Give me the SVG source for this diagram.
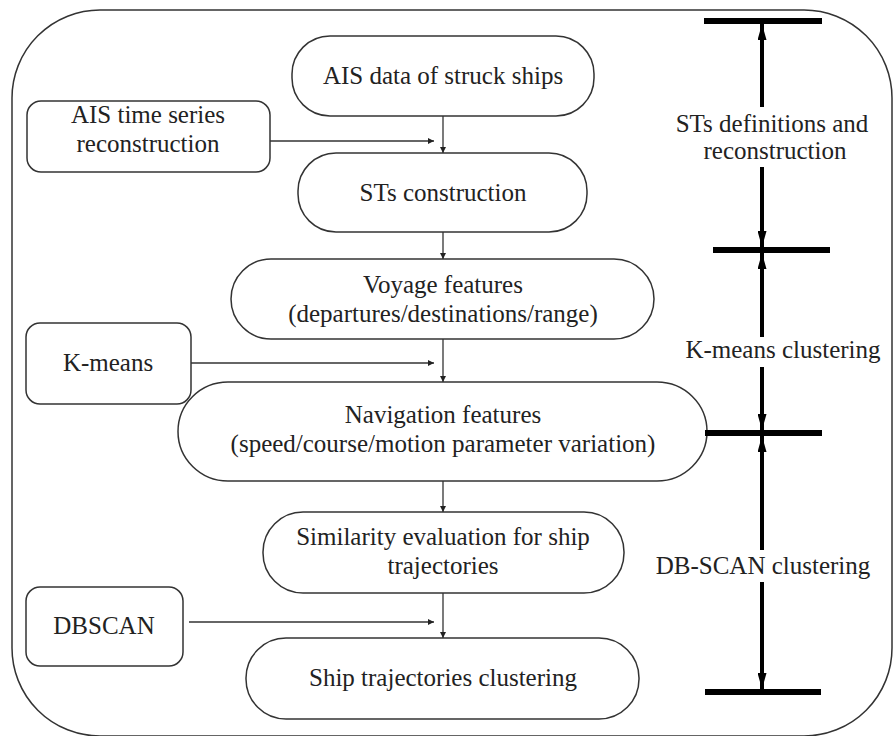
<svg xmlns="http://www.w3.org/2000/svg" width="895" height="736" viewBox="0 0 895 736">
<defs>
<style>
.box{fill:#fff;stroke:#333;stroke-width:1.5}
.t{font-family:"Liberation Serif","Times New Roman",serif;font-size:25px;fill:#222;text-anchor:middle}
.c{stroke:#333;stroke-width:1.3;fill:none}
.bar{stroke:#000;stroke-width:6;fill:none}
.thick{stroke:#000;stroke-width:4;fill:none}
</style>
<marker id="a" viewBox="0 0 10 10" refX="10" refY="5" markerWidth="6" markerHeight="6" markerUnits="userSpaceOnUse" orient="auto">
<path d="M0,0 L10,5 L0,10 z" fill="#222"/>
</marker>
<marker id="b" viewBox="0 0 10 10" refX="10" refY="5" markerWidth="16" markerHeight="9" markerUnits="userSpaceOnUse" orient="auto" preserveAspectRatio="none">
<path d="M0,0 L10,5 L0,10 z" fill="#000"/>
</marker>
</defs>
<rect id="frame" x="12" y="10" width="880" height="726" rx="88" ry="88" fill="#fff" stroke="#333" stroke-width="1.5"/>
<g id="n1"><rect class="box" x="292" y="36" width="302" height="80" rx="38"/><text class="t" x="443" y="84">AIS data of struck ships</text></g>
<g id="n2"><rect class="box" x="298" y="153" width="289" height="79" rx="38"/><text class="t" x="443" y="201">STs construction</text></g>
<g id="n3"><rect class="box" x="231" y="259" width="423" height="80" rx="40"/><text class="t" x="443" y="293">Voyage features</text><text class="t" x="443" y="322">(departures/destinations/range)</text></g>
<g id="n4"><rect class="box" x="178" y="382" width="529" height="99" rx="50"/><text class="t" x="443" y="423">Navigation features</text><text class="t" x="443" y="452">(speed/course/motion parameter variation)</text></g>
<g id="n5"><rect class="box" x="263" y="512" width="361" height="81" rx="40"/><text class="t" x="443" y="545">Similarity evaluation for ship</text><text class="t" x="443" y="574">trajectories</text></g>
<g id="n6"><rect class="box" x="246" y="638" width="393" height="81" rx="40"/><text class="t" x="443" y="686">Ship trajectories clustering</text></g>
<g id="s1"><rect class="box" x="27" y="101" width="243" height="71" rx="14"/><text class="t" x="148" y="123">AIS time series</text><text class="t" x="148" y="152">reconstruction</text></g>
<g id="s2"><rect class="box" x="26" y="323" width="165" height="81" rx="14"/><text class="t" x="108" y="371">K-means</text></g>
<g id="s3"><rect class="box" x="26" y="587" width="157" height="79" rx="14"/><text class="t" x="104" y="634">DBSCAN</text></g>
<g id="connectors">
<line class="c" x1="443" y1="116" x2="443" y2="153" marker-end="url(#a)"/>
<line class="c" x1="443" y1="232" x2="443" y2="259" marker-end="url(#a)"/>
<line class="c" x1="443" y1="339" x2="443" y2="382" marker-end="url(#a)"/>
<line class="c" x1="443" y1="481" x2="443" y2="512" marker-end="url(#a)"/>
<line class="c" x1="443" y1="593" x2="443" y2="638" marker-end="url(#a)"/>
<line class="c" x1="270" y1="141" x2="434" y2="141" marker-end="url(#a)"/>
<line class="c" x1="191" y1="363" x2="434" y2="363" marker-end="url(#a)"/>
<line class="c" x1="189" y1="622" x2="434" y2="622" marker-end="url(#a)"/>
</g>
<g id="scale">
<line class="bar" x1="704" y1="21" x2="822" y2="21"/>
<line class="bar" x1="713" y1="250" x2="830" y2="250"/>
<line class="bar" x1="705" y1="433" x2="822" y2="433"/>
<line class="bar" x1="705" y1="692" x2="821" y2="692"/>
<line class="thick" x1="762" y1="107" x2="762" y2="24" marker-end="url(#b)"/>
<line class="thick" x1="762" y1="167" x2="762" y2="247" marker-end="url(#b)"/>
<line class="thick" x1="762" y1="337" x2="762" y2="253" marker-end="url(#b)"/>
<line class="thick" x1="762" y1="367" x2="762" y2="430" marker-end="url(#b)"/>
<line class="thick" x1="762" y1="550" x2="762" y2="436" marker-end="url(#b)"/>
<line class="thick" x1="762" y1="582" x2="762" y2="689" marker-end="url(#b)"/>
<text class="t" x="772" y="132">STs definitions and</text>
<text class="t" x="775" y="159">reconstruction</text>
<text class="t" x="783" y="358">K-means clustering</text>
<text class="t" x="763" y="574">DB-SCAN clustering</text>
</g>
</svg>
